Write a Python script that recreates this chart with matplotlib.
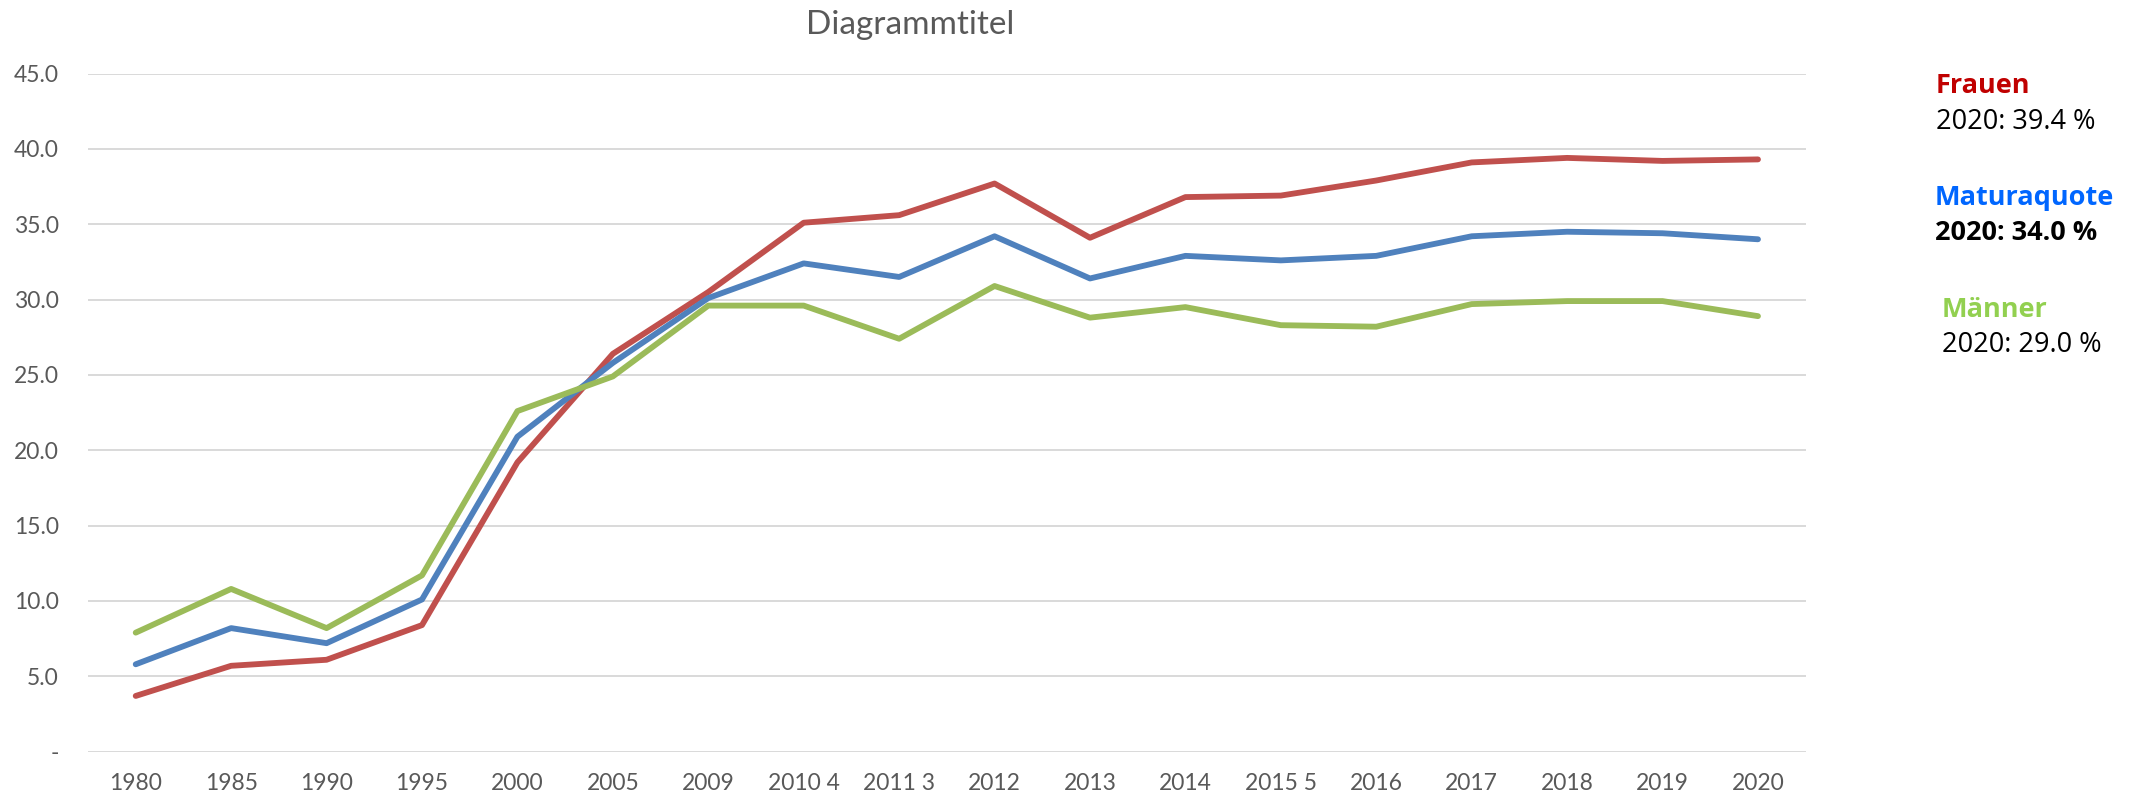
import numpy as np
import matplotlib
matplotlib.use("Agg")
import matplotlib.pyplot as plt

years = ["1980", "1985", "1990", "1995", "2000", "2005", "2009", "2010 4", "2011 3",
         "2012", "2013", "2014", "2015 5", "2016", "2017", "2018", "2019", "2020"]
frauen = [3.7, 5.7, 6.1, 8.4, 19.2, 26.4, 30.5, 35.1, 35.6, 37.7, 34.1, 36.8, 36.9, 37.9, 39.1, 39.4, 39.2, 39.3]
matura = [5.8, 8.2, 7.2, 10.1, 20.9, 25.8, 30.1, 32.4, 31.5, 34.2, 31.4, 32.9, 32.6, 32.9, 34.2, 34.5, 34.4, 34.0]
maenner = [7.9, 10.8, 8.2, 11.7, 22.6, 24.9, 29.6, 29.6, 27.4, 30.9, 28.8, 29.5, 28.3, 28.2, 29.7, 29.9, 29.9, 28.9]
yticks = [0, 5, 10, 15, 20, 25, 30, 35, 40, 45]
ylabels = ["-", "5.0", "10.0", "15.0", "20.0", "25.0", "30.0", "35.0", "40.0", "45.0"]

W, H = 2136, 794
fig = plt.figure(figsize=(W / 100, H / 100), dpi=100)
ax = fig.add_axes([88 / W, 1 - 751.7 / H, (1805.7 - 88) / W, (751.7 - 73.5) / H])

x = np.arange(len(years))
for vals, col in [(frauen, "#C0504D"), (matura, "#4F81BD"), (maenner, "#9BBB59")]:
    ax.plot(x, vals, color=col, lw=4.2, solid_capstyle="round", solid_joinstyle="round", zorder=3)

ax.set_xlim(-0.5, len(years) - 0.5)
ax.set_ylim(0, 45)
ax.set_yticks(yticks)
ax.set_yticklabels(ylabels)
ax.set_xticks(x)
ax.set_xticklabels(years)
ax.grid(axis="y", color="#D9D9D9", lw=1.4)
ax.set_axisbelow(True)
for s in ax.spines.values():
    s.set_visible(False)
ax.tick_params(length=0, labelsize=16.5, labelcolor="#595959")
ax.tick_params(axis="y", pad=21)
ax.tick_params(axis="x", pad=15)
for lab in ax.get_xticklabels() + ax.get_yticklabels():
    lab.set_family("Lato")

fig.text(910 / W, 1 - 25 / H, "Diagrammtitel", ha="center", va="center",
         fontsize=24, color="#595959", family="Lato")

def note(px, py, s, color, bold=False):
    fig.text(px / W, 1 - py / H, s, ha="left", va="baseline", fontsize=19.5,
             color=color, family="Open Sans", fontweight="bold" if bold else "normal")

note(1936, 93, "Frauen", "#C00000", True)
note(1936, 129, "2020: 39.4 %", "black")
note(1935, 205, "Maturaquote", "#0066FF", True)
note(1935, 240, "2020: 34.0 %", "black", True)
note(1942, 317, "Männer", "#92D050", True)
note(1942, 352, "2020: 29.0 %", "black")

fig.savefig("out.png", dpi=100)
